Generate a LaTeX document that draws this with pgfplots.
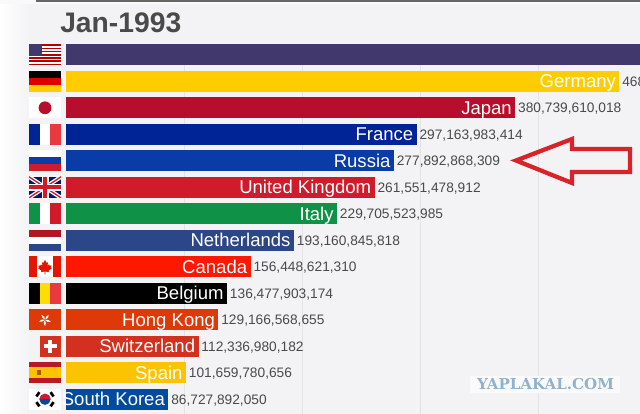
\documentclass[border=0pt]{standalone}
\usepackage{pgfplots}
\pgfplotsset{compat=1.18}
\usepackage{fontspec}
\setmainfont{Liberation Sans}
\newfontfamily\wm{DejaVu Serif}[BoldFont={DejaVu Serif Bold}]
\definecolor{bg}{HTML}{F3F3F6}
\definecolor{gridc}{HTML}{E3E3E6}
\definecolor{txt}{HTML}{4A4A4A}
\definecolor{frred}{HTML}{E8393F}
\definecolor{cusa}{HTML}{41386E}
\definecolor{cger}{HTML}{FFCC00}
\definecolor{cjpn}{HTML}{B80E2E}
\definecolor{cfra}{HTML}{002395}
\definecolor{crus}{HTML}{0A3CA8}
\definecolor{cgbr}{HTML}{CF1B2B}
\definecolor{cita}{HTML}{0F9148}
\definecolor{cnld}{HTML}{2C4788}
\definecolor{ccan}{HTML}{FF1800}
\definecolor{cbel}{HTML}{000000}
\definecolor{chkg}{HTML}{DE3908}
\definecolor{cche}{HTML}{D3301F}
\definecolor{cesp}{HTML}{FCC400}
\definecolor{ckor}{HTML}{004B9F}
\definecolor{arrowc}{HTML}{D8232A}
\definecolor{wmc}{HTML}{8FB3CF}
\newcommand{\nm}{\fontsize{13.9}{14}\selectfont}
\newcommand{\vl}{\fontsize{10.3}{11}\selectfont}
% value (billions), row, colour, name, label
\newcommand{\cbar}[5]{%
  \addplot[xbar,bar width=15.75pt,bar shift=0pt,draw=none,fill=#3,forget plot] coordinates {(#1,#2)};
  \node[anchor=base east,inner sep=0pt,text=white,font=\nm,xshift=-2.4pt,yshift=-5pt] at (axis cs:#1,#2) {#4};
  \node[anchor=base west,inner sep=0pt,text=txt,font=\vl,xshift=2pt,yshift=-3.7pt] at (axis cs:#1,#2) {#5};
}
\newcommand{\gridl}[1]{\addplot[gridc,line width=0.75pt,forget plot] coordinates {(#1,-0.4) (#1,13.6)};}
\begin{document}
\begin{tikzpicture}
\path[use as bounding box,clip] (0,0) rectangle (480pt,310.5pt);
\begin{scope}[x=0.75pt,y=-0.75pt,yshift=310.5pt]
  \fill[bg] (0,0) rectangle (640,414);
  \shade[left color=white,right color=bg,draw=none] (0,0) rectangle (30,414);
  \fill[white!50!bg] (0,0) rectangle (640,4);
  \fill[black!60] (36,0) rectangle (640,2);
\end{scope}
\begin{axis}[
  at={(0,0)},anchor=south west,scale only axis,
  width=480pt,height=310.5pt,
  hide axis,y dir=reverse,
  xmin=-55.93,xmax=486.44,ymin=-2.068,ymax=13.555,
]
\gridl{100}\gridl{200}\gridl{300}\gridl{400}
\cbar{690}{0}{cusa}{}{}
\cbar{469}{1}{cger}{Germany}{468}
\cbar{380.74}{2}{cjpn}{Japan}{380,739,610,018}
\cbar{297.16}{3}{cfra}{France}{297,163,983,414}
\cbar{277.89}{4}{crus}{Russia}{277,892,868,309}
\cbar{261.55}{5}{cgbr}{United Kingdom}{261,551,478,912}
\cbar{229.71}{6}{cita}{Italy}{229,705,523,985}
\cbar{193.16}{7}{cnld}{Netherlands}{193,160,845,818}
\cbar{156.45}{8}{ccan}{Canada}{156,448,621,310}
\cbar{136.48}{9}{cbel}{Belgium}{136,477,903,174}
\cbar{129.17}{10}{chkg}{Hong Kong}{129,166,568,655}
\cbar{112.34}{11}{cche}{Switzerland}{112,336,980,182}
\cbar{101.66}{12}{cesp}{Spain}{101,659,780,656}
\cbar{86.73}{13}{ckor}{South Korea}{86,727,892,050}
\end{axis}
\begin{scope}[x=0.75pt,y=-0.75pt,yshift=310.5pt]
  % title
  \node[anchor=base west,inner sep=0pt,text=txt,font=\fontsize{21.2}{22}\selectfont\bfseries] at (60,33) {Jan-1993};
  % arrow
  \draw[line width=3.2pt,color=arrowc,line join=miter,miter limit=3]
    (516,160.5) -- (572,139) -- (572,149) -- (630,149) -- (630,172) -- (572,172) -- (572,183) -- cycle;
  % watermark
  \fill[white!55!bg] (470,376) rectangle (620,393);
  \node[anchor=center,inner sep=0pt,text=wmc,font=\wm\bfseries\fontsize{11.3}{12}\selectfont] at (545.5,384.5) {YAPLAKAL.COM};
  % flags
  % USA
  \begin{scope}[shift={(29,44.3)}]
    \fill[white] (0,0) rectangle (32,21);
    \foreach \i in {0,2,4,6,8,10,12}{\fill[red!70!black] (0,\i*1.615) rectangle (32,\i*1.615+1.615);}
    \fill[cusa] (0,0) rectangle (13,11.3);
  \end{scope}
  % Germany
  \begin{scope}[shift={(29,70.8)}]
    \fill[black] (0,0) rectangle (32,7);
    \fill[red!87!black] (0,7) rectangle (32,14);
    \fill[cger] (0,14) rectangle (32,21);
  \end{scope}
  % Japan
  \begin{scope}[shift={(29,97.3)}]
    \fill[white] (0,0) rectangle (32,21);
    \fill[cjpn] (16,10.5) circle (6.4);
  \end{scope}
  % France
  \begin{scope}[shift={(29,123.8)}]
    \fill[white] (0,0) rectangle (32,21);
    \fill[cfra] (0,0) rectangle (10.6,21);
    \fill[frred] (21.4,0) rectangle (32,21);
  \end{scope}
  % Russia
  \begin{scope}[shift={(29,150.3)}]
    \fill[white] (0,0) rectangle (32,7);
    \fill[crus] (0,7) rectangle (32,14);
    \fill[cgbr] (0,14) rectangle (32,21);
  \end{scope}
  % UK
  \begin{scope}[shift={(29,176.8)}]
    \clip (0,0) rectangle (32,21);
    \fill[cfra!70!black] (0,0) rectangle (32,21);
    \draw[white,line width=3pt] (0,0) -- (32,21) (32,0) -- (0,21);
    \draw[cgbr,line width=1pt] (0,0) -- (32,21) (32,0) -- (0,21);
    \fill[white] (12.5,0) rectangle (19.5,21);
    \fill[white] (0,7) rectangle (32,14);
    \fill[cgbr] (14,0) rectangle (18,21);
    \fill[cgbr] (0,8.5) rectangle (32,12.5);
  \end{scope}
  % Italy
  \begin{scope}[shift={(29,203.3)}]
    \fill[white] (0,0) rectangle (32,21);
    \fill[cita] (0,0) rectangle (10.6,21);
    \fill[cgbr] (21.4,0) rectangle (32,21);
  \end{scope}
  % Netherlands
  \begin{scope}[shift={(29,229.8)}]
    \fill[white] (0,0) rectangle (32,21);
    \fill[cgbr!85!black] (0,0) rectangle (32,7);
    \fill[cnld] (0,14) rectangle (32,21);
  \end{scope}
  % Canada
  \begin{scope}[shift={(29,256.3)}]
    \fill[white] (0,0) rectangle (32,21);
    \fill[ccan!90!black] (0,0) rectangle (8,21);
    \fill[ccan!90!black] (24,0) rectangle (32,21);
    \fill[ccan!90!black] (16,3.5) -- (17.5,6.5) -- (19,6) -- (18.5,9.5) -- (20,8.2) -- (20.8,9.5) -- (22.5,9) -- (22,11.5) -- (22.8,12) -- (19.5,14.5) -- (20,15.8) -- (16.4,15.3) -- (16.4,18) -- (15.6,18) -- (15.6,15.3) -- (12,15.8) -- (12.5,14.5) -- (9.2,12) -- (10,11.5) -- (9.5,9) -- (11.2,9.5) -- (12,8.2) -- (13.5,9.5) -- (13,6) -- (14.5,6.5) -- cycle;
  \end{scope}
  % Belgium
  \begin{scope}[shift={(29,282.8)}]
    \fill[black] (0,0) rectangle (10.6,21);
    \fill[yellow!80!orange] (10.6,0) rectangle (21.4,21);
    \fill[frred] (21.4,0) rectangle (32,21);
  \end{scope}
  % Hong Kong
  \begin{scope}[shift={(29,309.3)}]
    \fill[chkg] (0,0) rectangle (32,21);
    \foreach \a in {90,162,234,306,18}{\fill[white,shift={(16,10.5)}] (0,0) -- (\a-14:3.5) -- (\a:6.2) -- (\a+22:3.5) -- cycle;}
    \fill[chkg] (16,10.5) circle (0.7);
  \end{scope}
  % Switzerland
  \begin{scope}[shift={(29,335.8)}]
    \fill[cche] (10.6,0) rectangle (32,21);
    \fill[white] (19.3,4) rectangle (23.3,17);
    \fill[white] (14.8,8.5) rectangle (27.8,12.5);
  \end{scope}
  % Spain
  \begin{scope}[shift={(29,362.3)}]
    \fill[cesp] (0,0) rectangle (32,21);
    \fill[cgbr!90!black] (0,0) rectangle (32,5.2);
    \fill[cgbr!90!black] (0,15.8) rectangle (32,21);
    \fill[orange!70!black] (7.5,7.5) rectangle (12,13);
  \end{scope}
  % South Korea
  \begin{scope}[shift={(29,388.8)}]
    \fill[white] (0,0) rectangle (32,21);
    \fill[ckor] (16,10.5) circle (5.6);
    \begin{scope}
      \clip (8,3) rectangle (24,10);
      \fill[cgbr] (16,10.5) circle (5.6);
    \end{scope}
    \foreach \a in {35,145,215,325}{\fill[black,shift={(16,10.5)},rotate=\a] (7.3,-2.6) rectangle (10,2.6);}
  \end{scope}
\end{scope}
\end{tikzpicture}
\end{document}
